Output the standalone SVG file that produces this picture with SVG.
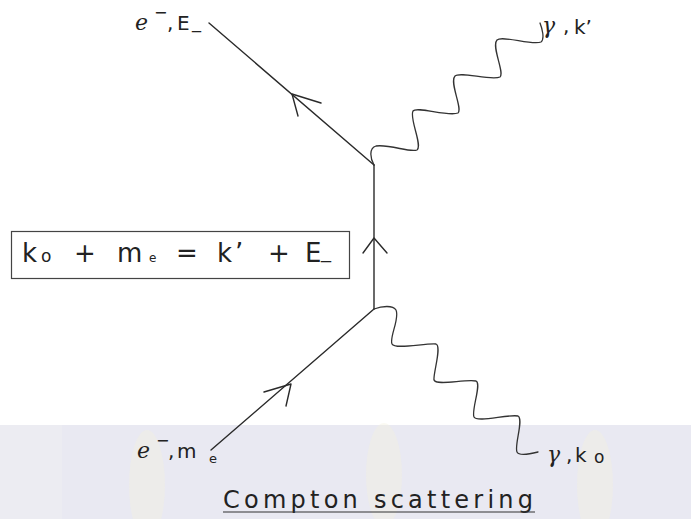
<svg xmlns="http://www.w3.org/2000/svg" width="691" height="519" viewBox="0 0 691 519">
<style>
.ln{fill:none;stroke:#2a2a2a;stroke-width:1.4;stroke-linecap:round;stroke-linejoin:round}
.wv{fill:none;stroke:#333;stroke-width:1.3;stroke-linecap:round}
.t{font-family:"DejaVu Sans","Liberation Sans",sans-serif;fill:#222}
.m{font-family:"DejaVu Serif","Liberation Serif",serif;font-style:italic;fill:#222}
.wm{fill:#f3efde;opacity:0.4}
</style>
<rect width="691" height="519" fill="#ffffff"/>
<g id="band">
<rect x="0" y="425" width="691" height="94" fill="#e9e9f2"/>
<rect x="0" y="425" width="62" height="94" fill="#ececf2"/>
<ellipse class="wm" cx="147" cy="485" rx="18" ry="55"/>
<ellipse class="wm" cx="384" cy="475" rx="18" ry="52"/>
<ellipse class="wm" cx="595" cy="485" rx="18" ry="55"/>
</g>
<g id="connectors">
<line class="ln" x1="374" y1="165" x2="209" y2="23"/>
<polyline class="ln" points="321,103 292,94 298,116"/>
<line class="ln" x1="374" y1="165" x2="374" y2="309"/>
<polyline class="ln" points="363,253 374,238 387,253"/>
<line class="ln" x1="211" y1="450" x2="374" y2="309"/>
<polyline class="ln" points="264,392 291,384 286,406"/>
<path class="wv" d="M374,165 C370,158 369,148 376,146 C390,144 410,153 417,150 C423,146 409,118 413,111 C417,106 448,117 458,113 C463,109 449,82 455,76 C460,71 491,81 500,77 C505,73 491,46 497,40 C502,35 533,46 541,42 C545,39 542,28 540,23"/>
<path class="wv" d="M374,309 C382,306 393,305 396,310 C400,318 389,338 392,344 C395,350 425,343 436,344 C442,346 433,374 434,380 C436,386 465,379 476,381 C482,383 471,411 474,417 C477,423 508,414 518,416 C524,419 514,446 517,452 C519,456 530,454 538,452"/>
</g>
<g id="label-e-out">
<text class="m" x="135" y="30" font-size="22">e</text>
<text class="t" x="154" y="18" font-size="16">−</text>
<text class="t" x="167" y="30" font-size="20">,</text>
<text class="t" x="177" y="30" font-size="20">E</text>
<text class="t" x="192" y="28" font-size="18">_</text>
</g>
<g id="label-gamma-out">
<text class="m" x="542" y="33" font-size="22">γ</text>
<text class="t" x="563" y="33" font-size="20">,</text>
<text class="t" x="574" y="34" font-size="20">k’</text>
</g>
<g id="equation">
<rect x="11.5" y="231.5" width="338" height="47" fill="#fff" stroke="#444" stroke-width="1.2"/>
<text class="t" y="262" font-size="26"><tspan x="22">k</tspan><tspan x="41" font-size="17">o</tspan><tspan x="74">+</tspan><tspan x="117">m</tspan><tspan x="149" font-size="12">e</tspan><tspan x="176">=</tspan><tspan x="217">k</tspan><tspan x="235">’</tspan><tspan x="268">+</tspan><tspan x="305">E</tspan><tspan x="321" y="258" font-size="20">_</tspan></text>
</g>
<g id="label-e-in">
<text class="m" x="137" y="458" font-size="22">e</text>
<text class="t" x="156" y="446" font-size="16">−</text>
<text class="t" x="168" y="458" font-size="20">,</text>
<text class="t" x="177" y="458" font-size="20">m</text>
<text class="t" x="209" y="463" font-size="13">e</text>
</g>
<g id="label-gamma-in">
<text class="m" x="547" y="462" font-size="22">γ</text>
<text class="t" x="566" y="462" font-size="20">,</text>
<text class="t" x="575" y="462" font-size="20">k</text>
<text class="t" x="594" y="463" font-size="17">o</text>
</g>
<g id="caption">
<text class="t" x="223" y="508" font-size="24" textLength="310" lengthAdjust="spacing">Compton scattering</text>
<line x1="223" y1="512" x2="535" y2="512" stroke="#333" stroke-width="1.2"/>
</g>
</svg>
